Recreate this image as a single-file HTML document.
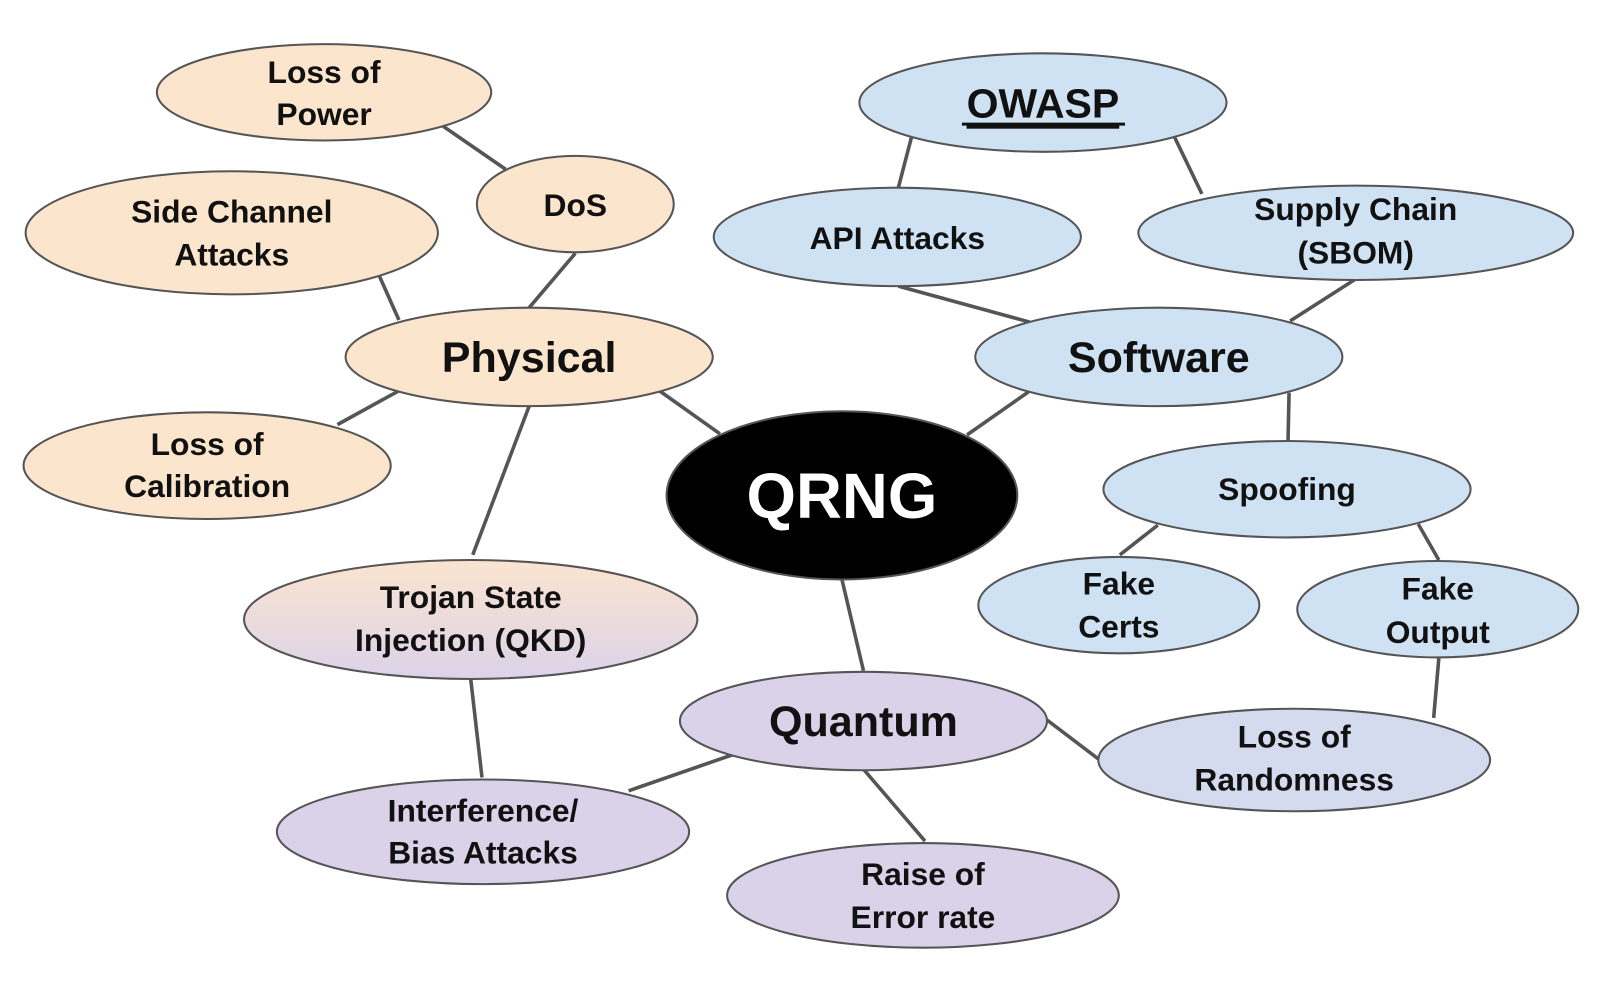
<!DOCTYPE html>
<html><head><meta charset="utf-8"><style>
html,body{margin:0;padding:0;background:#fff;width:1608px;height:1000px;overflow:hidden}
svg{display:block}
text{font-family:"Liberation Sans",sans-serif;font-weight:bold;fill:#111;text-anchor:middle;dominant-baseline:central}
</style></head><body>
<svg width="1608" height="1000" viewBox="0 0 1568 975" preserveAspectRatio="none" xmlns="http://www.w3.org/2000/svg">
<defs>
<linearGradient id="tg" x1="0" y1="0" x2="0" y2="1">
<stop offset="0" stop-color="#fbe4cf"/><stop offset="1" stop-color="#dcd3ea"/>
</linearGradient>
</defs>
<g stroke="#555" stroke-width="3.5" fill="none">
<line x1="432" y1="123" x2="493" y2="165"/>
<line x1="561" y1="247" x2="516" y2="300"/>
<line x1="369" y1="267" x2="389" y2="312"/>
<line x1="329" y1="414" x2="389" y2="381"/>
<line x1="643" y1="381" x2="702" y2="423"/>
<line x1="516" y1="396" x2="461" y2="541"/>
<line x1="459" y1="662" x2="470" y2="758"/>
<line x1="1003" y1="382" x2="943" y2="424"/>
<line x1="821" y1="565" x2="842" y2="654"/>
<line x1="714" y1="736" x2="613" y2="771"/>
<line x1="842" y1="750" x2="902" y2="820"/>
<line x1="1021" y1="702" x2="1071" y2="740"/>
<line x1="889" y1="133" x2="876" y2="183"/>
<line x1="1145" y1="133" x2="1172" y2="189"/>
<line x1="876" y1="279" x2="1004" y2="314"/>
<line x1="1322" y1="272" x2="1258" y2="313"/>
<line x1="1257" y1="383" x2="1256" y2="430"/>
<line x1="1129" y1="512" x2="1092" y2="541"/>
<line x1="1383" y1="511" x2="1403" y2="546"/>
<line x1="1403" y1="642" x2="1398" y2="700"/>
</g>
<g stroke="#555" stroke-width="2">
<ellipse cx="316" cy="90" rx="163" ry="47" fill="#fce5cd"/>
<ellipse cx="561" cy="199" rx="96" ry="47" fill="#fce5cd"/>
<ellipse cx="226" cy="227" rx="201" ry="60" fill="#fce5cd"/>
<ellipse cx="516" cy="348" rx="179" ry="48" fill="#fce5cd"/>
<ellipse cx="202" cy="454" rx="179" ry="52" fill="#fce5cd"/>
<ellipse cx="459" cy="604" rx="221" ry="58" fill="url(#tg)"/>
<ellipse cx="471" cy="811" rx="201" ry="51" fill="#d9d2e9"/>
<ellipse cx="842" cy="703" rx="179" ry="48" fill="#d9d2e9"/>
<ellipse cx="900" cy="873" rx="191" ry="51" fill="#d9d2e9"/>
<ellipse cx="1262" cy="741" rx="191" ry="50" fill="#d4dbef"/>
<ellipse cx="1017" cy="100" rx="179" ry="48" fill="#cfe2f3"/>
<ellipse cx="875" cy="231" rx="179" ry="48" fill="#cfe2f3"/>
<ellipse cx="1322" cy="227" rx="212" ry="46" fill="#cfe2f3"/>
<ellipse cx="1130" cy="348" rx="179" ry="48" fill="#cfe2f3"/>
<ellipse cx="1255" cy="477" rx="179" ry="47" fill="#cfe2f3"/>
<ellipse cx="1091" cy="590" rx="137" ry="47" fill="#cfe2f3"/>
<ellipse cx="1402" cy="594" rx="137" ry="47" fill="#cfe2f3"/>
<ellipse cx="821" cy="483" rx="171" ry="82" fill="#000"/>
</g>
<g font-size="31">
<text x="316" y="70">Loss of</text><text x="316" y="111">Power</text>
<text x="561" y="200">DoS</text>
<text x="226" y="206">Side Channel</text><text x="226" y="248">Attacks</text>
<text x="202" y="433">Loss of</text><text x="202" y="474">Calibration</text>
<text x="459" y="582">Trojan State</text><text x="459" y="624">Injection (QKD)</text>
<text x="471" y="790">Interference/</text><text x="471" y="831">Bias Attacks</text>
<text x="900" y="852">Raise of</text><text x="900" y="894">Error rate</text>
<text x="1262" y="718">Loss of</text><text x="1262" y="760">Randomness</text>
<text x="875" y="232">API Attacks</text>
<text x="1322" y="204">Supply Chain</text><text x="1322" y="246">(SBOM)</text>
<text x="1255" y="477">Spoofing</text>
<text x="1091" y="569">Fake</text><text x="1091" y="611">Certs</text>
<text x="1402" y="574">Fake</text><text x="1402" y="616">Output</text>
</g>
<text x="516" y="349" font-size="42">Physical</text>
<text x="842" y="704" font-size="42">Quantum</text>
<text x="1130" y="349" font-size="42">Software</text>
<text x="1017" y="101" font-size="40" text-decoration="underline">OWASP</text>
<line x1="938" y1="121" x2="1097" y2="121" stroke="#111" stroke-width="3"/>
<text x="821" y="484" font-size="62" style="fill:#fff;font-weight:900">QRNG</text>
</svg>
</body></html>
